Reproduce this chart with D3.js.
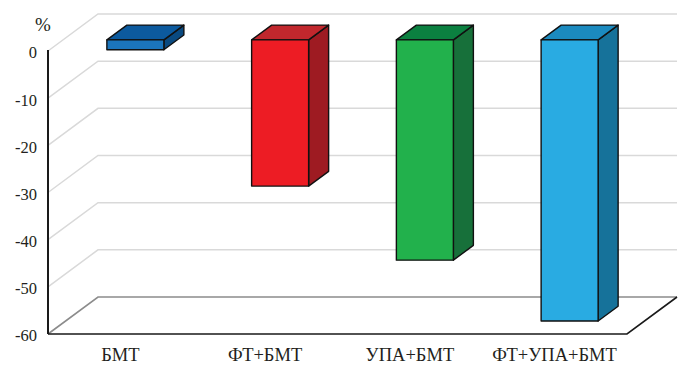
<!DOCTYPE html>
<html>
<head>
<meta charset="utf-8">
<script src="https://cdn.jsdelivr.net/npm/d3@7/dist/d3.min.js"></script>
<style>
  html, body { margin: 0; padding: 0; background: #fff; }
  svg { display: block; }
</style>
</head>
<body>
<svg id="chart" width="685" height="366"></svg>
<script>
// Change in value, % (one column per treatment group)
const categories = ["БМТ", "ФТ+БМТ", "УПА+БМТ", "ФТ+УПА+БМТ"];
const values = [-2.1, -31, -46.7, -59.6];
const yTicks = [0, -10, -20, -30, -40, -50, -60];
const unitLabel = "%";

// Face colours for each column: front, top, side
const frontColors = ["#1b75bc", "#ed1c24", "#22b14c", "#29abe2"];
const topColors = ["#0c5a9e", "#c1272d", "#0b8040", "#1b8abf"];
const sideColors = ["#0a4a80", "#9e1b22", "#17703a", "#16729a"];

const FONT = "Liberation Serif";
const TEXT_COLOR = "#231f20";

const svg = d3.select("#chart");

// Front plane of the 3-D box
const plotLeft = 48, plotRight = 627, plotTop = 51, plotBottom = 334;
// Full depth offset of the back wall
const DX = 50, DY = -37;
const proj = (px, py, d) => [px + d * DX, py + d * DY];

const x = d3.scaleBand().domain(categories).range([plotLeft, plotRight]);
const y = d3.scaleLinear().domain([-60, 0]).range([plotBottom, plotTop]);

// Side-wall diagonals and back-wall gridlines
const grid = svg.append("g");
yTicks.filter(v => v !== -60).forEach(v => {
  const f = [plotLeft, y(v)];
  const b = proj(plotLeft, y(v), 1);
  const e = proj(plotRight, y(v), 1);
  grid.append("polyline")
    .attr("points", [f, b, e].map(p => p.join(",")).join(" "))
    .attr("fill", "none")
    .attr("stroke", "#d9d9d9")
    .attr("stroke-width", 1.5);
});

// Floor at the lowest value
const fl = [plotLeft, y(-60)];
const flB = proj(plotLeft, y(-60), 1);
const frB = proj(plotRight, y(-60), 1);
const fr = [plotRight, y(-60)];
svg.append("polyline")
  .attr("points", [fl, flB, frB].map(p => p.join(",")).join(" "))
  .attr("fill", "none").attr("stroke", "#8c8c8c").attr("stroke-width", 1.6);
svg.append("polyline")
  .attr("points", [fl, fr, frB].map(p => p.join(",")).join(" "))
  .attr("fill", "none").attr("stroke", "#1a1a1a").attr("stroke-width", 1.6);

// Value axis
const yAxis = svg.append("g")
  .attr("transform", `translate(${plotLeft},0)`)
  .call(d3.axisLeft(y).tickValues(yTicks).tickSize(0).tickPadding(11)
    .tickFormat(d => String(d)));
yAxis.attr("font-family", FONT).attr("font-size", 16.5);
yAxis.select(".domain").remove();
yAxis.selectAll("text")
  .attr("dy", "0.42em")
  .attr("fill", TEXT_COLOR);
svg.append("line")
  .attr("x1", plotLeft).attr("x2", plotLeft)
  .attr("y1", y(0) - 1).attr("y2", y(-60))
  .attr("stroke", "#1a1a1a").attr("stroke-width", 2);

svg.append("text")
  .attr("x", 43).attr("y", 31)
  .attr("text-anchor", "middle")
  .attr("font-family", FONT)
  .attr("font-size", 19)
  .attr("fill", TEXT_COLOR)
  .text(unitLabel);

// Columns hang from zero, set between 30% and 70% of the depth
const d0 = 0.3, d1 = 0.7;
const barW = 57;
const bars = svg.append("g");
categories.forEach((c, i) => {
  const cx = x(c) + x.bandwidth() / 2;
  const x0 = cx - barW / 2, x1 = cx + barW / 2;
  const yt = y(0), yb = y(values[i]);
  const P = (px, py, d) => proj(px, py, d).join(",");
  const g = bars.append("g")
    .attr("stroke", "#111").attr("stroke-width", 1.4).attr("stroke-linejoin", "round");
  // right side face
  g.append("polygon")
    .attr("points", [P(x1, yt, d0), P(x1, yt, d1), P(x1, yb, d1), P(x1, yb, d0)].join(" "))
    .attr("fill", sideColors[i]);
  // top face
  g.append("polygon")
    .attr("points", [P(x0, yt, d0), P(x0, yt, d1), P(x1, yt, d1), P(x1, yt, d0)].join(" "))
    .attr("fill", topColors[i]);
  // front face
  g.append("polygon")
    .attr("points", [P(x0, yt, d0), P(x1, yt, d0), P(x1, yb, d0), P(x0, yb, d0)].join(" "))
    .attr("fill", frontColors[i]);
});

// Category labels
svg.append("g")
  .attr("font-family", FONT)
  .attr("font-size", 18.5)
  .selectAll("text")
  .data(categories)
  .join("text")
  .attr("x", d => x(d) + x.bandwidth() / 2)
  .attr("y", 361)
  .attr("text-anchor", "middle")
  .attr("fill", TEXT_COLOR)
  .text(d => d);
</script>
</body>
</html>
